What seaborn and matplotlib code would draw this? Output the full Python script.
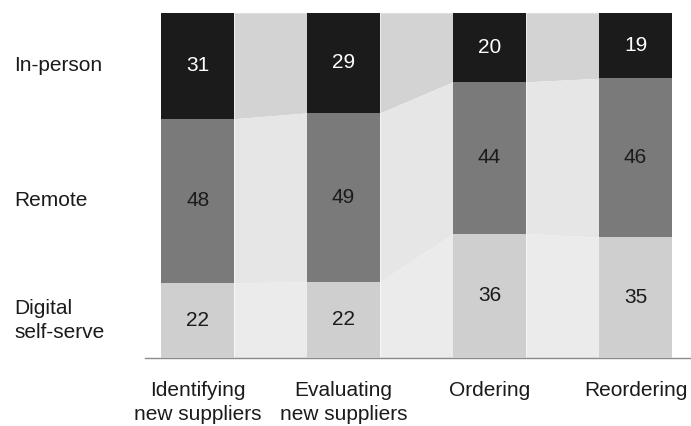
import matplotlib
matplotlib.use("Agg")
import matplotlib.pyplot as plt
import matplotlib.transforms as mtransforms
import seaborn as sns
import pandas as pd
import numpy as np

# Dados do gráfico (% por etapa)
stages = ["Identifying\nnew suppliers", "Evaluating\nnew suppliers", "Ordering", "Reordering"]
channels = ["In-person", "Remote", "Digital\nself-serve"]
in_person = [31, 29, 20, 19]
remote = [48, 49, 44, 46]
digital = [22, 22, 36, 35]

bar_colors = ["#1b1b1b", "#7a7a7a", "#cfcfcf"]
band_colors = ["#d3d3d3", "#e6e6e6", "#ebebeb"]
text_colors = ["white", "#1b1b1b", "#1b1b1b"]


def run_chart():
    sns.set_theme(style="white")
    plt.rcParams["font.family"] = ["Liberation Sans", "DejaVu Sans"]

    values = np.array([in_person, remote, digital], dtype=float)  # top -> bottom
    shares = values / values.sum(axis=0) * 100
    # limites de cada segmento (de baixo para cima)
    upper = np.cumsum(shares[::-1], axis=0)[::-1]
    lower = upper - shares

    fig = plt.figure(figsize=(6.91, 4.26), dpi=100)
    ax = fig.add_axes([0.21, 0.16, 0.79, 0.81])

    width = 0.5
    # barras empilhadas: desenha a soma acumulada, da maior para a menor
    for k in range(3):
        df = pd.DataFrame({"stage": stages, "value": upper[k]})
        sns.barplot(data=df, x="stage", y="value", color=bar_colors[k],
                    width=width, saturation=1, ax=ax, zorder=3, linewidth=0)

    # faixas de ligação entre as barras
    for i in range(len(stages) - 1):
        x0, x1 = i + width / 2, i + 1 - width / 2
        for k in range(3):
            ax.fill_between([x0, x1], [lower[k, i], lower[k, i + 1]],
                            [upper[k, i], upper[k, i + 1]],
                            color=band_colors[k], linewidth=0, zorder=1)

    fs = 15
    # rótulos de valor
    for i in range(len(stages)):
        for k in range(3):
            ax.text(i, (lower[k, i] + upper[k, i]) / 2, f"{values[k, i]:.0f}",
                    ha="center", va="center", fontsize=fs, color=text_colors[k], zorder=4)

    # rótulos dos canais à esquerda
    trans = mtransforms.blended_transform_factory(fig.transFigure, ax.transData)
    for k in range(3):
        ax.text(0.021, (lower[k, 0] + upper[k, 0]) / 2, channels[k],
                transform=trans, ha="left", va="center", fontsize=fs, color="#1b1b1b",
                linespacing=1.3)

    ax.set_xlim(-0.36, 3.38)
    ax.set_ylim(0, 100)
    ax.set_xlabel("")
    ax.set_ylabel("")
    ax.set_yticks([])
    ax.tick_params(axis="x", length=0, pad=17, labelsize=fs, colors="#1b1b1b")
    for lbl in ax.get_xticklabels():
        lbl.set_linespacing(1.3)
    sns.despine(ax=ax, left=True)
    ax.spines["bottom"].set_color("#8a8a8a")
    ax.spines["bottom"].set_linewidth(1.0)

    fig.savefig("out.png", dpi=100)


if __name__ == "__main__":
    run_chart()
